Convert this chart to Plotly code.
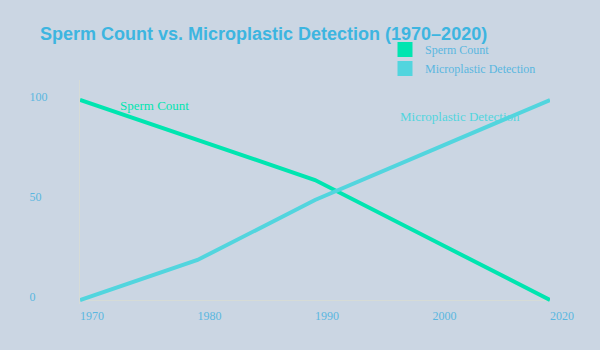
import plotly.graph_objects as go

years = ["1970", "1980", "1990", "2000", "2020"]
sperm_count = [100, 80, 60, 30, 0]
microplastic = [0, 20, 50, 75, 100]
y_tick_vals = [0, 50, 100]
y_tick_text = ["0\u00a0\u00a0\u00a0\u00a0", "50\u00a0\u00a0", "100"]

GREEN = "#00e5b0"
CYAN = "#52d5de"
BG = "#cbd6e3"
TICK = "#5ab6e0"
SERIF = "Liberation Serif, Times New Roman, serif"

fig = go.Figure()
fig.add_trace(go.Scatter(x=years, y=sperm_count, mode="lines", name="Sperm Count",
                         line=dict(color=GREEN, width=4), showlegend=False))
fig.add_trace(go.Scatter(x=years, y=microplastic, mode="lines", name="Microplastic Detection",
                         line=dict(color=CYAN, width=4), showlegend=False))
# legend swatches
fig.add_trace(go.Scatter(x=[None], y=[None], mode="markers", name="Sperm Count",
                         marker=dict(symbol="square", size=15, color=GREEN)))
fig.add_trace(go.Scatter(x=[None], y=[None], mode="markers", name="Microplastic Detection",
                         marker=dict(symbol="square", size=15, color=CYAN)))

fig.add_annotation(x=0.63, y=97.5, xref="x", yref="y", text="Sperm Count", showarrow=False,
                   font=dict(family=SERIF, size=13, color=GREEN))
fig.add_annotation(x=3.23, y=92, xref="x", yref="y", text="Microplastic Detection", showarrow=False,
                   font=dict(family=SERIF, size=13, color=CYAN))

fig.update_layout(
    width=600, height=350,
    margin=dict(l=80, r=50, t=80, b=46, autoexpand=False),
    paper_bgcolor=BG, plot_bgcolor=BG,
    title=dict(text="<b>Sperm Count vs. Microplastic Detection (1970–2020)</b>",
               x=40/600, xanchor="left", xref="container",
               y=1-34/350, yanchor="middle", yref="container",
               font=dict(family="Liberation Sans, Arial, sans-serif", size=18, color="#3db5e0")),
    legend=dict(x=385/600, y=1-35/350, xref="container", yref="container",
                xanchor="left", yanchor="top", bgcolor="rgba(0,0,0,0)",
                font=dict(family=SERIF, size=12, color=TICK)),
    xaxis=dict(type="category", range=[0, 4], showgrid=False, zeroline=False,
               showline=False, ticks="", ticklabelshift=12, ticklabelstandoff=3,
               tickfont=dict(family=SERIF, size=12, color=TICK)),
    yaxis=dict(range=[-2, 110], showgrid=False, zeroline=True, zerolinecolor="#d6dbd6",
               zerolinewidth=1, showline=True, linecolor="#d6dbd6", linewidth=1,
               ticks="", tickvals=y_tick_vals, ticktext=y_tick_text,
               ticklabelstandoff=29, ticklabelshift=-3,
               tickfont=dict(family=SERIF, size=12, color=TICK)),
)

fig.write_html("out.html")
